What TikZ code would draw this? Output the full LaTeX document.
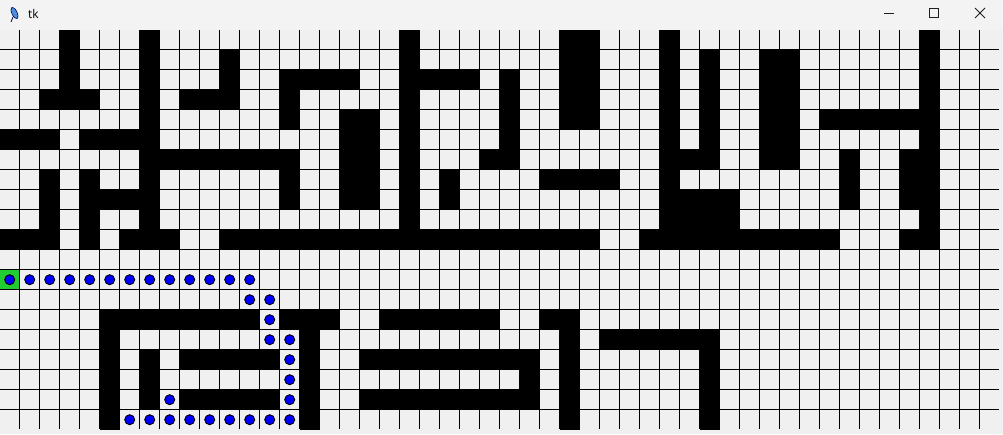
\documentclass[tikz,border=0pt]{standalone}
\usepackage{fontspec}
\setmainfont{Open Sans}
\definecolor{titlebg}{HTML}{F3F3F3}
\definecolor{cellbg}{HTML}{F0F0F0}
\definecolor{startgreen}{HTML}{22CC33}
\definecolor{feather}{HTML}{4A8FE0}
\definecolor{btn}{HTML}{202020}
\begin{document}
\begin{tikzpicture}[x=1pt,y=-1pt,
  gridline/.style={draw=black,line width=1pt},
  wall/.style={fill=black},
  startcell/.style={fill=startgreen},
  pathdot/.style={fill=blue,draw=black,line width=0.9pt},
  winbtn/.style={draw=btn,line width=1pt}]
\useasboundingbox (0,0) rectangle (1003,434);
\fill[cellbg] (0,0) rectangle (1003,434);
\fill[titlebg] (0,0) rectangle (1003,30);
% title bar
\filldraw[fill=feather,draw=black!70!blue,line width=0.6pt,rotate around={25:(14.5,13)}] (14.5,13) ellipse (2.6 and 6.2);
\draw[black!70!blue,line width=0.8pt] (13,17) -- (11,22);
\node[anchor=west,font=\fontsize{12}{14}\selectfont,inner sep=0pt] (title) at (28,14) {tk};
\draw[winbtn] (884,13.5) -- (894,13.5);
\draw[winbtn] (929.5,8.5) rectangle (938.5,17.5);
\draw[winbtn] (975,8) -- (985,18) (975,18) -- (985,8);
% start cell
\fill[startcell] (0,269.5) rectangle (19.5,289.5);
% walls
\foreach \r/\a/\b in {
 0/3/3, 0/7/7, 0/20/20, 0/28/29, 0/33/33, 0/46/46,
 1/3/3, 1/7/7, 1/11/11, 1/20/20, 1/28/29, 1/33/33, 1/35/35, 1/38/39, 1/46/46,
 2/3/3, 2/7/7, 2/11/11, 2/14/17, 2/20/23, 2/25/25, 2/28/29, 2/33/33, 2/35/35, 2/38/39, 2/46/46,
 3/2/4, 3/7/7, 3/9/11, 3/14/14, 3/20/20, 3/25/25, 3/28/29, 3/33/33, 3/35/35, 3/38/39, 3/46/46,
 4/7/7, 4/14/14, 4/17/18, 4/20/20, 4/25/25, 4/28/29, 4/33/33, 4/35/35, 4/38/39, 4/41/46,
 5/0/2, 5/4/7, 5/17/18, 5/20/20, 5/25/25, 5/33/33, 5/35/35, 5/38/39, 5/46/46,
 6/7/14, 6/17/18, 6/20/20, 6/24/25, 6/33/35, 6/38/39, 6/42/42, 6/45/46,
 7/2/2, 7/4/4, 7/7/7, 7/14/14, 7/17/18, 7/20/20, 7/22/22, 7/27/30, 7/33/33, 7/42/42, 7/45/46,
 8/2/2, 8/4/7, 8/14/14, 8/17/18, 8/20/20, 8/22/22, 8/33/36, 8/42/42, 8/45/46,
 9/2/2, 9/4/4, 9/7/7, 9/20/20, 9/33/36, 9/46/46,
 10/0/2, 10/4/4, 10/6/8, 10/11/29, 10/32/41, 10/45/46,
 14/5/12, 14/14/16, 14/19/24, 14/27/28,
 15/5/5, 15/15/15, 15/28/28, 15/30/35,
 16/5/5, 16/7/7, 16/9/13, 16/15/15, 16/18/26, 16/28/28, 16/35/35,
 17/5/5, 17/7/7, 17/15/15, 17/26/26, 17/28/28, 17/35/35,
 18/5/5, 18/7/7, 18/9/13, 18/15/15, 18/18/26, 18/28/28, 18/35/35,
 19/5/5, 19/15/15, 19/28/28, 19/35/35}
 \fill[wall] ({max(20*\a-0.5,0)},{29.5+20*\r}) rectangle ({20*\b+19.5},{49.5+20*\r});
% grid lines
\foreach \c in {1,...,49}
 \draw[gridline] ({20*\c-0.5},30) -- ({20*\c-0.5},429);
\foreach \r in {1,...,19}
 \draw[gridline] (0,{29.5+20*\r}) -- (999,{29.5+20*\r});
% path dots
\foreach \r/\c in {12/0,12/1,12/2,12/3,12/4,12/5,12/6,12/7,12/8,12/9,12/10,12/11,12/12,
 13/12,13/13,14/13,15/13,15/14,16/14,17/14,18/14,18/8,
 19/6,19/7,19/8,19/9,19/10,19/11,19/12,19/13,19/14}
 \filldraw[pathdot] ({20*\c+9.7},{39.7+20*\r}) circle (5);
\end{tikzpicture}
\end{document}
